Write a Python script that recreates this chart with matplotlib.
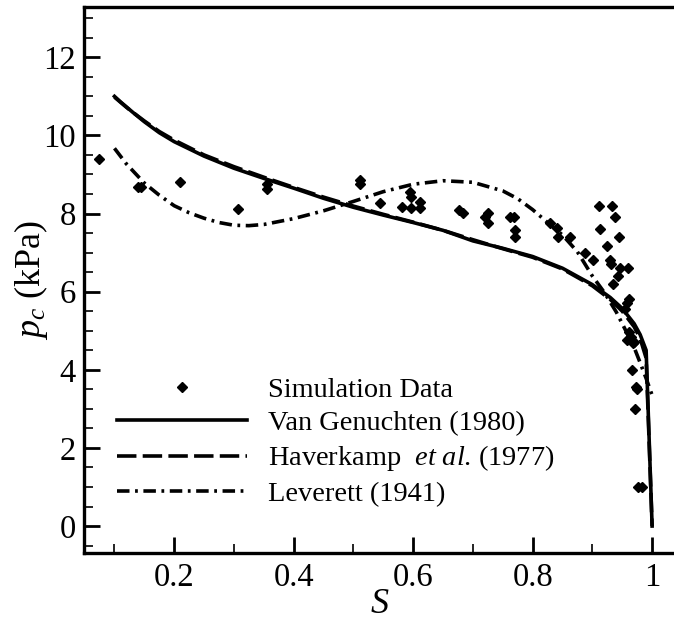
import matplotlib
matplotlib.use("Agg")
import matplotlib.pyplot as plt
from matplotlib.ticker import MultipleLocator

plt.rcParams['font.family'] = ['Liberation Serif', 'DejaVu Serif']
plt.rcParams['mathtext.fontset'] = 'custom'
plt.rcParams['mathtext.rm'] = 'Liberation Serif'
plt.rcParams['mathtext.it'] = 'Liberation Serif:italic'
plt.rcParams['lines.scale_dashes'] = False

# Simulation data
sim_S = [0.074, 0.139, 0.145, 0.209, 0.307, 0.356, 0.356, 0.511, 0.511, 0.544,
         0.582, 0.596, 0.594, 0.596, 0.611, 0.611, 0.677, 0.684, 0.720, 0.726,
         0.726, 0.762, 0.768, 0.770, 0.770, 0.829, 0.840, 0.843, 0.862, 0.887,
         0.901, 0.911, 0.933, 0.938, 0.912, 0.944, 0.925, 0.929, 0.932, 0.946,
         0.959, 0.943, 0.935, 0.961, 0.958, 0.955, 0.961, 0.964, 0.970, 0.958,
         0.968, 0.966, 0.973, 0.975, 0.971, 0.976, 0.983]
sim_pc = [9.40, 8.69, 8.69, 8.80, 8.11, 8.75, 8.63, 8.86, 8.75, 8.26,
          8.18, 8.15, 8.56, 8.43, 8.30, 8.15, 8.09, 8.01, 7.92, 8.01,
          7.75, 7.92, 7.92, 7.58, 7.41, 7.75, 7.62, 7.41, 7.41, 7.00,
          6.81, 8.20, 8.20, 7.90, 7.60, 7.39, 7.17, 6.81, 6.71, 6.60,
          6.60, 6.40, 6.20, 5.81, 5.70, 5.55, 4.97, 4.85, 4.72, 4.76,
          4.68, 3.99, 3.57, 3.50, 3.00, 1.00, 1.00]

# Van Genuchten (1980)
vg_S = [0.10, 0.11, 0.12, 0.13, 0.15, 0.175, 0.20, 0.25, 0.30, 0.35, 0.40, 0.45,
        0.50, 0.55, 0.60, 0.65, 0.70, 0.75, 0.80, 0.85, 0.90, 0.93, 0.95,
        0.97, 0.98, 0.99, 1.00]
vg_pc = [11.0, 10.86, 10.73, 10.60, 10.35, 10.07, 9.84, 9.47, 9.16, 8.90, 8.65, 8.39,
         8.16, 7.96, 7.77, 7.57, 7.30, 7.11, 6.90, 6.60, 6.18, 5.85, 5.57,
         5.18, 4.90, 4.50, 0.0]

# Haverkamp et al. (1977)
hv_S = [0.10, 0.11, 0.12, 0.13, 0.15, 0.175, 0.20, 0.25, 0.30, 0.35, 0.40, 0.45,
        0.50, 0.55, 0.60, 0.65, 0.70, 0.75, 0.80, 0.85, 0.90, 0.93, 0.95,
        0.97, 0.98, 0.99, 1.00]
hv_pc = [10.98, 10.85, 10.72, 10.60, 10.37, 10.10, 9.88, 9.50, 9.20, 8.93, 8.67, 8.42,
         8.19, 7.98, 7.78, 7.57, 7.33, 7.10, 6.88, 6.58, 6.15, 5.80, 5.50,
         5.10, 4.80, 4.30, 0.0]

# Leverett (1941)
lv_S = [0.10, 0.12, 0.15, 0.175, 0.20, 0.225, 0.25, 0.275, 0.30, 0.325, 0.35, 0.40,
        0.45, 0.50, 0.55, 0.60, 0.65, 0.70, 0.75, 0.775, 0.80, 0.825, 0.85, 0.875,
        0.90, 0.92, 0.94, 0.96, 0.97, 0.98, 0.99, 1.00]
lv_pc = [9.67, 9.27, 8.78, 8.47, 8.20, 8.02, 7.88, 7.77, 7.70, 7.69, 7.72, 7.87,
         8.07, 8.31, 8.56, 8.75, 8.84, 8.80, 8.58, 8.38, 8.10, 7.77, 7.45, 7.02,
         6.40, 5.98, 5.48, 4.88, 4.57, 4.18, 3.78, 3.35]

W, H = 674, 623
fig = plt.figure(figsize=(W / 100, H / 100), dpi=100)
left, right, top, bottom = 84, 676, 6.5, 553
ax = fig.add_axes([left / W, 1 - bottom / H, (right - left) / W, (bottom - top) / H])

lw = 2.6
ax.plot(sim_S, sim_pc, linestyle='none', marker='D', markersize=5, color='black',
        label='Simulation Data', zorder=4)
ax.plot(vg_S, vg_pc, '-', color='black', lw=lw, label='Van Genuchten (1980)', zorder=3)
ax.plot(hv_S, hv_pc, color='black', lw=lw, dashes=(14, 4.5),
        label='Haverkamp  $\\it{et\\ al}$. (1977)', zorder=3)
ax.plot(lv_S, lv_pc, color='black', lw=lw, dashes=(9, 4, 2, 4),
        label='Leverett (1941)', zorder=3)

ax.set_xlim(0.049, 1.04)
ax.set_ylim(-0.69, 13.3)
ax.xaxis.set_major_locator(MultipleLocator(0.2))
ax.xaxis.set_minor_locator(MultipleLocator(0.1))
ax.yaxis.set_major_locator(MultipleLocator(2))
ax.yaxis.set_minor_locator(MultipleLocator(0.5))
ax.set_xticks([0.2, 0.4, 0.6, 0.8, 1.0])
ax.set_xticklabels(['0.2', '0.4', '0.6', '0.8', '1'])

ax.tick_params(which='both', direction='in', top=False, right=False, labelsize=23.5)
ax.tick_params(which='major', length=11.5, width=2)
ax.tick_params(which='minor', length=6.5, width=1.2)
ax.tick_params(axis='x', pad=7)
ax.tick_params(axis='y', pad=6)
for s in ax.spines.values():
    s.set_linewidth(2.4)

ax.set_xlabel('$S$', fontsize=26, labelpad=-4)
ax.set_ylabel('$p_c$ (kPa)', fontsize=26, labelpad=-5)

leg = ax.legend(loc='upper left', bbox_to_anchor=(0.0557, 0.322), frameon=False,
                fontsize=20.4, handlelength=4.6, handletextpad=0.72, labelspacing=0.26,
                borderpad=0, borderaxespad=0, numpoints=1)

fig.savefig('out.png', dpi=100)
